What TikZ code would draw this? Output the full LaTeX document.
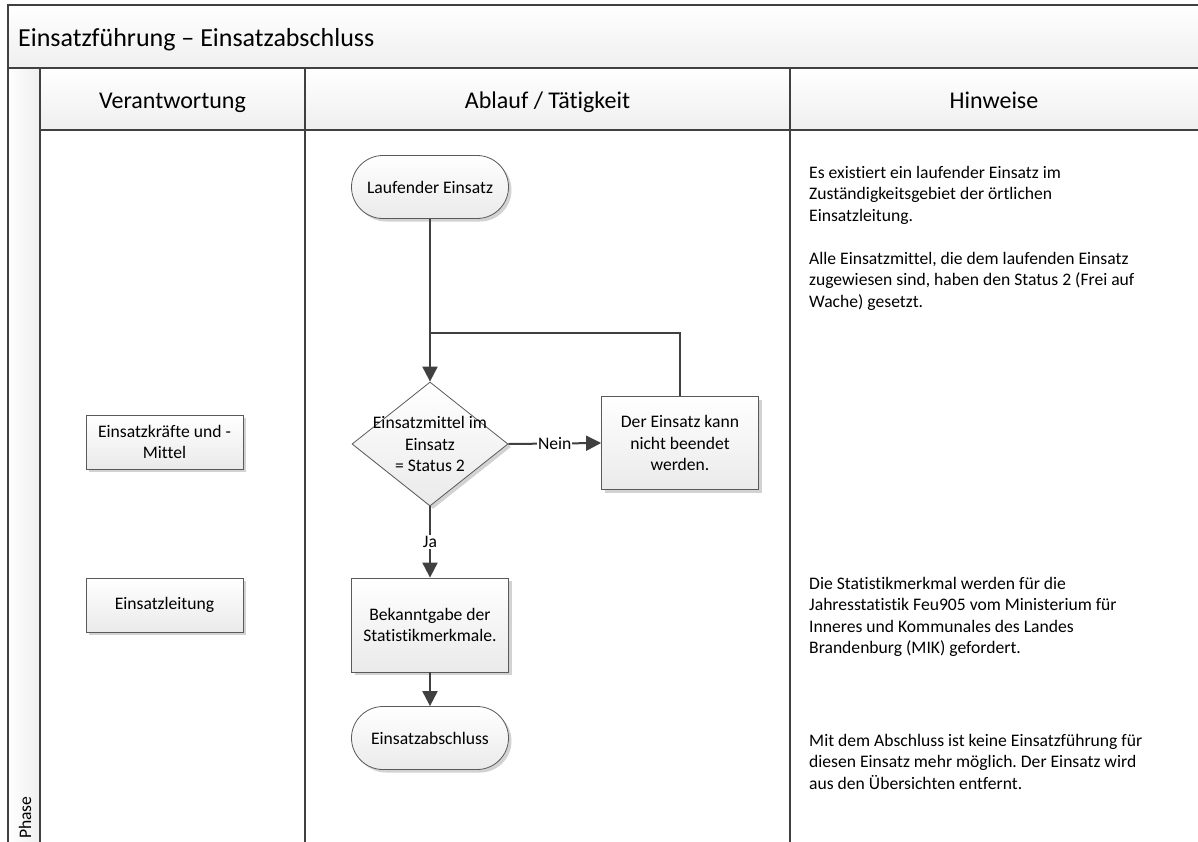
\documentclass[tikz,border=0pt]{standalone}
\usepackage{fontspec}
\setmainfont{Carlito}[Ligatures={NoCommon}]
\frenchspacing
\usetikzlibrary{arrows.meta,shapes.geometric,shadows}
\definecolor{ln}{HTML}{404040}
\definecolor{bd}{HTML}{5A5A5A}
\definecolor{shd}{HTML}{EAEAEA}
\definecolor{band}{HTML}{EFEFEF}
\tikzset{
  body/.style={font=\fontsize{17.6}{21.3}\selectfont\frenchspacing},
  proc/.style={draw=bd, line width=0.8pt, top color=white, bottom color=shd,
    minimum width=157pt, align=center, body, inner sep=0pt,
    drop shadow={shadow xshift=3pt, shadow yshift=-3pt, fill=black!35, opacity=0.5}},
  term/.style={proc, rounded corners=31.5pt, minimum height=63pt},
  conn/.style={draw=ln, line width=2pt},
  arr/.style={conn, -{Triangle[length=15pt,width=15pt]}},
  frame/.style={draw=ln, line width=2pt},
  lbl/.style={body, fill=white, inner sep=1pt},
  hdr/.style={font=\fontsize{24}{28}\selectfont, anchor=base, inner sep=0pt},
  note/.style={body, anchor=north west, align=left, inner sep=0pt},
}
\begin{document}
\begin{tikzpicture}[x=1pt,y=-1pt]
\useasboundingbox (0,0) rectangle (1198,841);
\clip (0,0) rectangle (1198,841);
% bands
\fill[top color=white, bottom color=band] (8,5) rectangle (1210,68);
\fill[top color=white, bottom color=band] (40,68) rectangle (1210,130);
\fill[left color=white, right color=band] (8,68) rectangle (40,850);
% frame lines
\draw[frame] (1210,5) -- (8,5) -- (8,850);
\draw[frame] (8,68) -- (1210,68);
\draw[frame] (40,130) -- (1210,130);
\draw[frame] (40,68) -- (40,850);
\draw[frame] (305,68) -- (305,850);
\draw[frame] (790,68) -- (790,850);
% title and headers
\node[font=\fontsize{26}{30}\selectfont, anchor=base west, inner sep=0pt] (title) at (18,46) {Einsatzführung – Einsatzabschluss};
\node[hdr] (h1) at (172.5,108) {Verantwortung};
\node[hdr] (h2) at (547.5,108) {Ablauf / Tätigkeit};
\node[hdr] (h3) at (994,108) {Hinweise};
\node[body, rotate=90, anchor=west, inner sep=0pt] (phase) at (25,839) {Phase};
% responsibility boxes
\node[proc, minimum height=54pt] (r1) at (164.5,442) {Einsatzkräfte und -\\Mittel};
\node[proc, minimum height=54pt] (r2) at (164.5,605) {Einsatzleitung};
% flow
\node[term] (start) at (430,187) {Laufender Einsatz};
\node[diamond, draw=bd, line width=0.8pt, top color=white, bottom color=shd,
  minimum width=156pt, minimum height=124pt, inner sep=0pt,
  drop shadow={shadow xshift=3pt, shadow yshift=-3pt, fill=black!35, opacity=0.5}] (dec) at (430,444) {};
\node[body, align=center, inner sep=0pt] (dect) at (430,444) {Einsatzmittel im\\Einsatz\\= Status 2};
\node[proc, minimum height=93pt] (no) at (680,443) {Der Einsatz kann\\nicht beendet\\werden.};
\node[proc, minimum height=94pt] (bek) at (430,625) {Bekanntgabe der\\Statistikmerkmale.};
\node[term] (end) at (430,738) {Einsatzabschluss};
\coordinate (join) at (430,333);
% connectors
\draw[arr] (start.south) -- (dec.north);
\draw[conn] (no.north) |- (join);
\draw[arr] (dec.east) -- node[lbl] {Nein} (no.west);
\draw[arr] (dec.south) -- node[lbl] {Ja} (bek.north);
\draw[arr] (bek.south) -- (end.north);
% notes
\node[note] (n1) at (809,166) {Es existiert ein laufender Einsatz im\\Zuständigkeitsgebiet der örtlichen\\Einsatzleitung.};
\node[note] (n2) at (809,252) {Alle Einsatzmittel, die dem laufenden Einsatz\\zugewiesen sind, haben den Status 2 (Frei auf\\Wache) gesetzt.};
\node[note] (n3) at (809,577) {Die Statistikmerkmal werden für die\\Jahresstatistik Feu905 vom Ministerium für\\Inneres und Kommunales des Landes\\Brandenburg (MIK) gefordert.};
\node[note] (n4) at (809,734) {Mit dem Abschluss ist keine Einsatzführung für\\diesen Einsatz mehr möglich. Der Einsatz wird\\aus den Übersichten entfernt.};
\end{tikzpicture}
\end{document}
